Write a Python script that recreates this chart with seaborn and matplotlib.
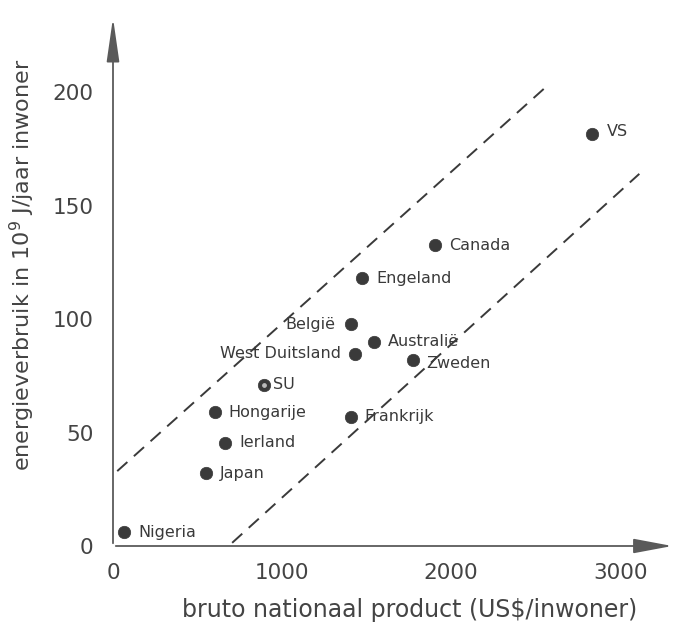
import matplotlib
matplotlib.use("Agg")
import matplotlib.pyplot as plt
import seaborn as sns
import pandas as pd
from matplotlib.patches import FancyArrowPatch

# ---- data ----
countries = ["Nigeria", "Japan", "Ierland", "Hongarije", "SU", "West Duitsland",
             "België", "Australië", "Zweden", "Frankrijk", "Engeland", "Canada", "VS"]
bnp = [68, 552, 665, 603, 891, 1430, 1408, 1545, 1772, 1408, 1474, 1904, 2832]
energy = [6, 32, 45.5, 59, 71, 84.7, 97.7, 90, 81.8, 57, 118, 132.5, 181.5]

# band lines (dashed)
upper_x = [25, 2572]
upper_y = [33, 203]
lower_x = [705, 3114]
lower_y = [1.4, 164]

x_ticks = [0, 1000, 2000, 3000]
y_ticks = [0, 50, 100, 150, 200]
x_label = "bruto nationaal product (US$/inwoner)"
y_label = "energieverbruik in 10$^9$ J/jaar inwoner"

# ---- style ----
sns.set_theme(style="white")
plt.rcParams["font.family"] = ["DejaVu Sans"]
ink = "#3a3a3a"
axis_col = "#5a5a5a"

fig = plt.figure(figsize=(6.77, 6.22), dpi=100)
ax = fig.add_axes([113 / 677, 76 / 622, (675 - 113) / 677, (546 - 15) / 622])
ax.set_xlim(0, 3325)
ax.set_ylim(0, 234)

df = pd.DataFrame({"land": countries, "bnp": bnp, "energie": energy})
sns.scatterplot(data=df, x="bnp", y="energie", ax=ax, s=80, color=ink,
                edgecolor=ink, linewidth=0.5, zorder=3, legend=False)
# SU: dot with light centre
su = df[df["land"] == "SU"]
ax.scatter(su["bnp"], su["energie"], s=6, color="#bbbbbb", zorder=4)

band = pd.DataFrame({"x": upper_x + lower_x, "y": upper_y + lower_y,
                     "lijn": ["boven"] * 2 + ["onder"] * 2})
for name, g in band.groupby("lijn"):
    sns.lineplot(data=g, x="x", y="y", ax=ax, color=ink, linewidth=1.4,
                 dashes=False, legend=False)
for ln in ax.get_lines():
    ln.set_dashes([7, 4.5])

offsets = {"België": (-11, 0, "right"), "West Duitsland": (-10, 0, "right"),
           "Zweden": (10, -2.5, "left"), "VS": (11, 2, "left"), "SU": (7, 0, "left")}
for land, x, y in zip(countries, bnp, energy):
    dx, dy, ha = offsets.get(land, (10, 0, "left"))
    ax.annotate(land, (x, y), xytext=(dx, dy), textcoords="offset points",
                ha=ha, va="center", fontsize=11.5, color=ink)

# axes with arrows
for s in ax.spines.values():
    s.set_visible(False)
arrx = FancyArrowPatch((0, 0), (1.0, 0), transform=ax.transAxes, clip_on=False,
                       arrowstyle="-|>,head_length=1.6,head_width=0.3",
                       mutation_scale=15, color=axis_col, linewidth=1.3, zorder=5)
arry = FancyArrowPatch((0, 0), (0, 1.0), transform=ax.transAxes, clip_on=False,
                       arrowstyle="-|>,head_length=1.8,head_width=0.26",
                       mutation_scale=15, color=axis_col, linewidth=1.3, zorder=5)
ax.add_patch(arrx)
ax.add_patch(arry)

ax.set_xticks(x_ticks)
ax.set_yticks(y_ticks)
ax.tick_params(axis="both", direction="inout", length=9, width=1.1, colors=axis_col,
               labelsize=15.5, labelcolor="#444444", pad=6)
ax.tick_params(axis="x", pad=8)
ax.tick_params(axis="y", length=8, pad=10)
ax.set_xlabel(x_label, fontsize=17, color="#444444")
ax.set_ylabel(y_label, fontsize=16, color="#444444")
ax.xaxis.set_label_coords(0.528, -0.098)
ax.yaxis.set_label_coords(-0.135, 0.53)
ax.grid(False)

fig.savefig("out.png", dpi=100, facecolor="white")
